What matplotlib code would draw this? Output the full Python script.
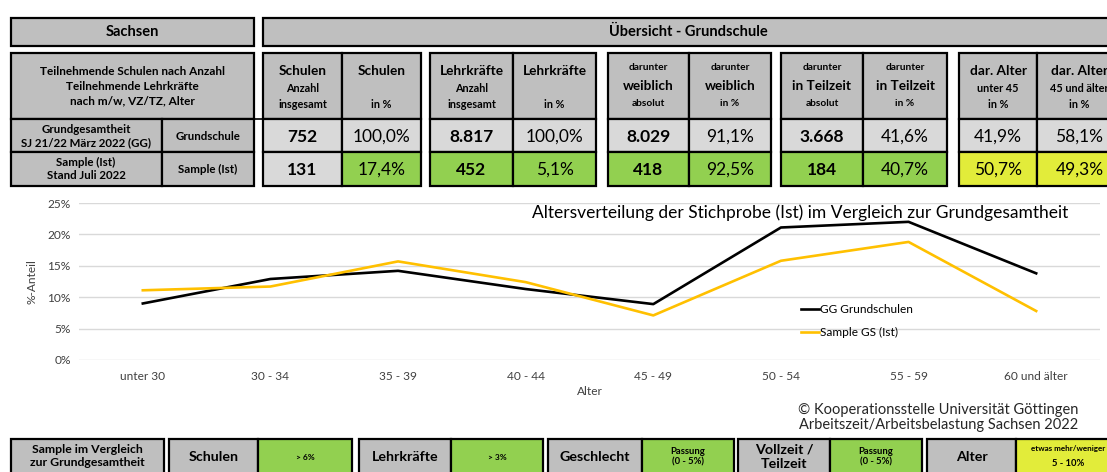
import matplotlib
matplotlib.use("Agg")
import matplotlib.pyplot as plt
from matplotlib.patches import Rectangle
from matplotlib.ticker import PercentFormatter

plt.rcParams['font.family'] = ['Lato', 'DejaVu Sans']

# --- chart data (percent share per age group) ---
age_groups = ["unter 30", "30 - 34", "35 - 39", "40 - 44", "45 - 49", "50 - 54", "55 - 59", "60 und älter"]
gg_grundschulen = [9.0, 12.9, 14.2, 11.3, 8.9, 21.1, 22.0, 13.8]
sample_gs = [11.1, 11.7, 15.7, 12.4, 7.1, 15.8, 18.8, 7.8]

# --- table data ---
col_heads = [
    ("Schulen", "Anzahl", "insgesamt"),
    ("Schulen", "", "in %"),
    ("Lehrkräfte", "Anzahl", "insgesamt"),
    ("Lehrkräfte", "", "in %"),
    ("darunter", "weiblich", "absolut"),
    ("darunter", "weiblich", "in %"),
    ("darunter", "in Teilzeit", "absolut"),
    ("darunter", "in Teilzeit", "in %"),
    ("dar. Alter", "unter 45", "in %"),
    ("dar. Alter", "45 und älter", "in %"),
]
gg_row = ["752", "100,0%", "8.817", "100,0%", "8.029", "91,1%", "3.668", "41,6%", "41,9%", "58,1%"]
sample_row = ["131", "17,4%", "452", "5,1%", "418", "92,5%", "184", "40,7%", "50,7%", "49,3%"]
sample_rating = ["none", "ok", "ok", "ok", "ok", "ok", "ok", "ok", "near", "near"]

compare_labels = ["Schulen", "Lehrkräfte", "Geschlecht", "Vollzeit /\nTeilzeit", "Alter"]
compare_values = ["> 6%", "> 3%", "Passung\n(0 - 5%)", "Passung\n(0 - 5%)", "etwas mehr/weniger\n5 - 10%"]
compare_rating = ["ok", "ok", "ok", "ok", "near"]

GRAY = "#BFBFBF"
LIGHT = "#D9D9D9"
GREEN = "#92D050"
YELLOW = "#E2EC3A"
rating_color = {"none": LIGHT, "ok": GREEN, "near": YELLOW}

W, H = 1107, 472
fig = plt.figure(figsize=(W / 100, H / 100), dpi=100)

# overlay axes in pixel coordinates for the tables
tab = fig.add_axes([0, 0, 1, 1])
tab.set_xlim(0, W)
tab.set_ylim(H, 0)
tab.axis("off")


def box(x0, x1, y0, y1, color, lw=1.6):
    tab.add_patch(Rectangle((x0, y0), x1 - x0, y1 - y0, facecolor=color,
                            edgecolor="black", linewidth=lw, zorder=1))


def txt(x, y, s, size, bold=True, ha="center", color="black", ls=1.25):
    tab.text(x, y, s, fontsize=size, fontweight="bold" if bold else "normal",
             ha=ha, va="center", color=color, linespacing=ls, zorder=3)


# title bars
box(11, 254, 18, 46, GRAY)
txt(132, 32, "Sachsen", 10.5)
box(263, 1130, 18, 46, GRAY)
txt(688, 32, "Übersicht - Grundschule", 10.5)

# left header block
box(11, 254, 53, 119, GRAY)
txt(132, 86, "Teilnehmende Schulen nach Anzahl\nTeilnehmende Lehrkräfte\nnach m/w, VZ/TZ, Alter", 8.5, ls=1.4)
box(11, 162, 119, 152, GRAY)
txt(86, 136, "Grundgesamtheit\nSJ 21/22 März 2022 (GG)", 8.3)
box(162, 254, 119, 152, GRAY)
txt(208, 136, "Grundschule", 8.3)
box(11, 162, 152, 186, GRAY)
txt(86, 169, "Sample (Ist)\nStand Juli 2022", 8.3)
box(162, 254, 152, 186, GRAY)
txt(208, 169, "Sample (Ist)", 8.3)
tab.plot([254, 263], [119, 119], color="black", lw=1.2)

# column groups (left, middle, right edge)
groups = [(263, 342, 421), (430, 513, 596), (608, 689, 771), (781, 863, 947), (959, 1037, 1122)]
for g, (a, m, b) in enumerate(groups):
    for k, (x0, x1) in enumerate([(a, m), (m, b)]):
        i = 2 * g + k
        cx = (x0 + x1) / 2
        box(x0, x1, 53, 119, GRAY)
        top, mid, bot = col_heads[i]
        if g in (2, 3):
            txt(cx, 67, top, 7.3)
            txt(cx, 86, mid, 9.8)
            txt(cx, 104, bot, 7.3)
        else:
            txt(cx, 71, top, 9.8)
            txt(cx, 88, mid, 7.8)
            txt(cx, 104, bot, 7.8)
        box(x0, x1, 119, 152, LIGHT)
        box(x0, x1, 152, 186, rating_color[sample_rating[i]])
        bold = (k == 0 and g < 4)
        txt(cx, 137, gg_row[i], 12.5, bold=bold)
        txt(cx, 170, sample_row[i], 12.5, bold=bold)

# bottom comparison strip
box(11, 164, 439, 480, GRAY)
txt(87, 456, "Sample im Vergleich\nzur Grundgesamtheit", 8.8)
strip = [(169, 258, 352), (359, 451, 543), (548, 642, 734), (738, 830, 922), (927, 1016, 1120)]
for j, (a, m, b) in enumerate(strip):
    box(a, m, 439, 480, GRAY)
    txt((a + m) / 2, 457, compare_labels[j], 10.3)
    box(m, b, 439, 480, rating_color[compare_rating[j]])
    if j == 4:
        txt((m + b) / 2, 449, compare_values[j].split("\n")[0], 5.8)
        txt((m + b) / 2, 463, compare_values[j].split("\n")[1], 6.8)
    else:
        txt((m + b) / 2, 457, compare_values[j], 6 if j < 2 else 6.8)

# --- line chart ---
ax = fig.add_axes([79 / W, (H - 360) / H, (1100 - 79) / W, (360 - 203) / H])
x = range(len(age_groups))
ax.plot(x, gg_grundschulen, color="black", lw=1.9, label="GG Grundschulen")
ax.plot(x, sample_gs, color="#FFC000", lw=1.9, label="Sample GS (Ist)")
ax.set_xlim(-0.5, len(age_groups) - 0.5)
ax.set_ylim(0, 25)
ax.set_yticks([0, 5, 10, 15, 20, 25])
ax.yaxis.set_major_formatter(PercentFormatter(decimals=0))
ax.set_xticks(list(x))
ax.set_xticklabels(age_groups)
ax.grid(axis="y", color="#D9D9D9", lw=1)
ax.set_axisbelow(True)
for s in ax.spines.values():
    s.set_visible(False)
ax.tick_params(length=0, labelsize=8.6, labelcolor="#404040", pad=8)
ax.tick_params(axis="y", pad=6)
ax.set_xlabel("Alter", fontsize=8.6, color="#404040", labelpad=3)
ax.set_ylabel("%-Anteil", fontsize=8.6, color="#404040", labelpad=7)
ax.patch.set_alpha(0)

fig.text(800 / W, 1 - 213 / H, "Altersverteilung der Stichprobe (Ist) im Vergleich zur Grundgesamtheit",
         fontsize=12.5, ha="center", va="center", color="black")
ax.legend(loc="upper left", bbox_to_anchor=(799 / W, 1 - 302 / H), bbox_transform=fig.transFigure,
          frameon=False, fontsize=8.6, handlelength=1.5, handletextpad=0.1, labelspacing=0.95,
          borderaxespad=0, borderpad=0.2)

fig.text(1078 / W, 1 - 410 / H, "© Kooperationsstelle Universität Göttingen", fontsize=10.5,
         ha="right", va="center", color="#262626")
fig.text(1078 / W, 1 - 425 / H, "Arbeitszeit/Arbeitsbelastung Sachsen 2022", fontsize=10.5,
         ha="right", va="center", color="#262626")

fig.savefig("out.png", dpi=100)
